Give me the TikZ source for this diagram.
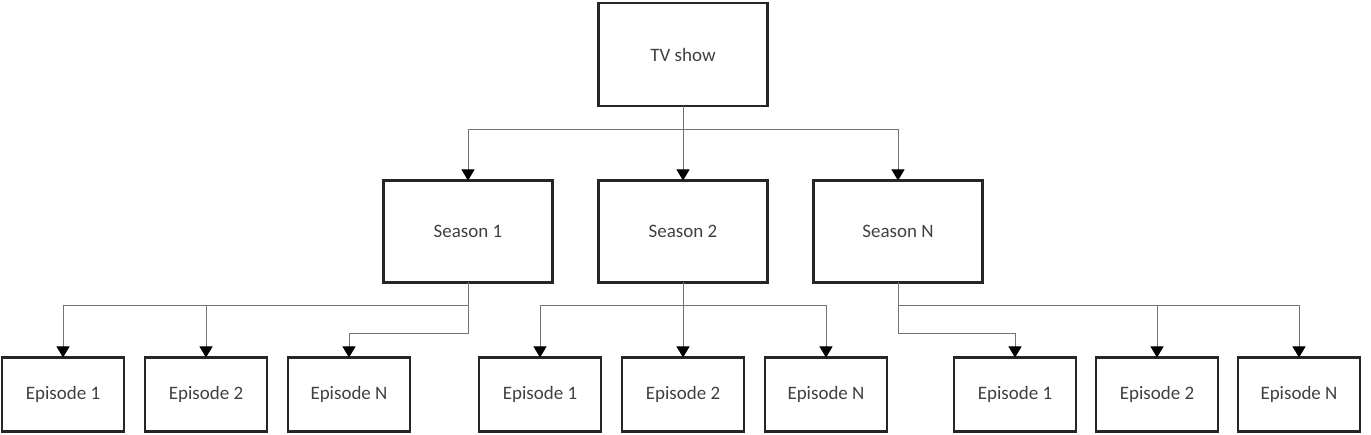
\documentclass[tikz,border=0pt]{standalone}
\usepackage{fontspec}
\setmainfont{Carlito}
\usetikzlibrary{arrows.meta, positioning, calc}

\begin{document}
\begin{tikzpicture}[
  node distance = 1.49cm and 0.92cm,
  showbox/.style = {rectangle, draw=black!85, line width=1.4pt, outer sep=0pt,
    minimum width=3.38cm, minimum height=2.06cm,
    font=\fontsize{10.8}{13}\selectfont, text=black!75},
  seasonbox/.style = {showbox, minimum height=2.04cm},
  episodebox/.style = {showbox, minimum width=2.44cm, minimum height=1.48cm},
  link/.style = {draw=black!55, line width=0.5pt,
    -{Triangle[width=0.26cm, length=0.22cm, color=black]}},
]
\useasboundingbox (0,0) rectangle (27.42,-8.70);

% TV show node (top)
\node[showbox] (show) at (13.66,-1.09) {TV show};

% Season nodes
\node[seasonbox, below=1.49cm of show] (s2) {Season 2};
\node[seasonbox, left=0.92cm of s2]  (s1) {Season 1};
\node[seasonbox, right=0.92cm of s2] (sN) {Season N};

% Episode nodes (middle group under Season 2)
\node[episodebox, below=1.5cm of s2] (e22) {Episode 2};
\node[episodebox, left=0.42cm of e22]  (e21) {Episode 1};
\node[episodebox, right=0.42cm of e22] (e2N) {Episode N};
% left group
\node[episodebox, left=1.38cm of e21] (e1N) {Episode N};
\node[episodebox, left=0.42cm of e1N] (e12) {Episode 2};
\node[episodebox, left=0.42cm of e12] (e11) {Episode 1};
% right group
\node[episodebox, right=1.34cm of e2N] (e31) {Episode 1};
\node[episodebox, right=0.4cm of e31] (e32) {Episode 2};
\node[episodebox, right=0.4cm of e32] (e3N) {Episode N};

% Junction points
\coordinate (showjoin) at ($(show.south)+(0,-0.46)$);
\coordinate (s1join) at ($(s1.south)+(0,-0.46)$);
\coordinate (s2join) at ($(s2.south)+(0,-0.46)$);
\coordinate (sNjoin) at ($(sN.south)+(0,-0.46)$);

% TV show -> seasons
\draw[link] (show) -- (s2);
\draw[link] (showjoin) -| (s1.north);
\draw[link] (showjoin) -| (sN.north);

% Season 1 -> episodes
\draw[link] (s1.south) -- (s1join) -| (e11.north);
\draw[link] (s1join) -| (e12.north);
\draw[link] (s1join) -- ++(0,-0.56) -| (e1N.north);

% Season 2 -> episodes
\draw[link] (s2) -- (e22);
\draw[link] (s2join) -| (e21.north);
\draw[link] (s2join) -| (e2N.north);

% Season N -> episodes
\draw[link] (sN.south) -- (sNjoin) -| (e3N.north);
\draw[link] (sNjoin) -| (e32.north);
\draw[link] (sNjoin) -- ++(0,-0.56) -| (e31.north);
\end{tikzpicture}
\end{document}
